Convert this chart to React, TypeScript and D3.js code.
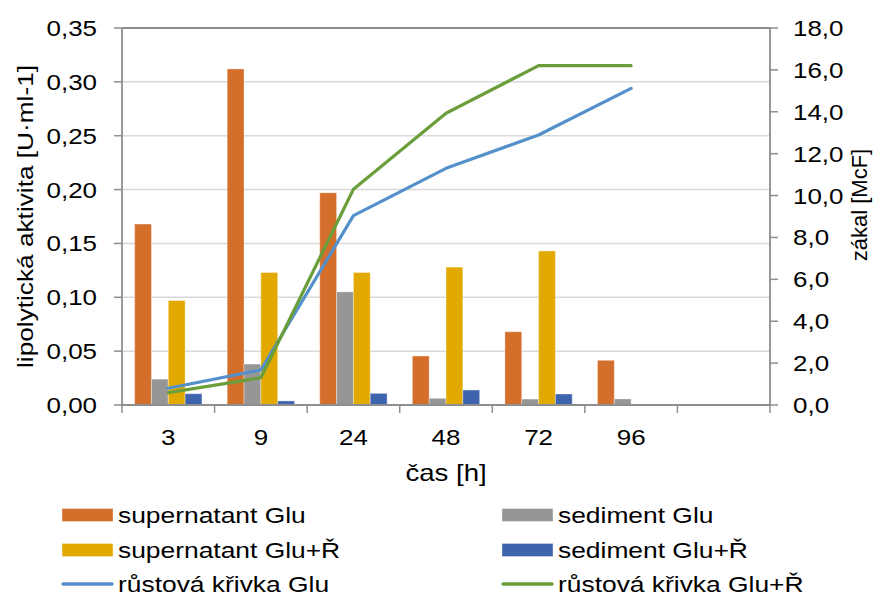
import React from "react";
import * as d3 from "d3";

const categories = ["3", "9", "24", "48", "72", "96", ""];
const supernatantGlu = [0.168, 0.312, 0.197, 0.0455, 0.068, 0.0415, null];
const sedimentGlu = [0.024, 0.038, 0.105, 0.0062, 0.0055, 0.0056, null];
const supernatantGluR = [0.097, 0.123, 0.123, 0.128, 0.143, null, null];
const sedimentGluR = [0.0105, 0.0038, 0.0108, 0.0139, 0.0102, null, null];
const growthGlu = [0.8, 1.67, 9.04, 11.3, 12.89, 15.12];
const growthGluR = [0.59, 1.3, 10.3, 13.93, 16.2, 16.2];
const leftTicks = [0, 0.05, 0.1, 0.15, 0.2, 0.25, 0.3, 0.35];
const rightTicks = [0, 2, 4, 6, 8, 10, 12, 14, 16, 18];

const barSeries = [
  { name: "supernatant Glu", values: supernatantGlu, color: "#D46E2B" },
  { name: "sediment Glu", values: sedimentGlu, color: "#969696" },
  { name: "supernatant Glu+Ř", values: supernatantGluR, color: "#E2AA00" },
  { name: "sediment Glu+Ř", values: sedimentGluR, color: "#3E64AE" },
];
const lineSeries = [
  { name: "růstová křivka Glu", values: growthGlu, color: "#5490CA" },
  { name: "růstová křivka Glu+Ř", values: growthGluR, color: "#6A9E3B" },
];

const FONT = "'Liberation Sans', Arial, Helvetica, sans-serif";
const SX = 1.18;

function HText({ x, y, anchor = "middle", size = 22, sx = SX, children }: any) {
  return (
    <text
      transform={`translate(${x},${y}) scale(${sx},1)`}
      textAnchor={anchor}
      fontSize={size}
      fontFamily={FONT}
      fill="#000"
    >
      {children}
    </text>
  );
}

export default function App() {
  const left = 122;
  const right = 770;
  const top = 28;
  const bottom = 405;

  const x = d3.scaleBand<string>().domain(categories.map((c, i) => String(i))).range([left, right]).padding(0);
  const inner = d3
    .scaleBand<string>()
    .domain(barSeries.map((s) => s.name))
    .range([0, x.bandwidth()])
    .paddingInner(0)
    .paddingOuter(0.75);
  const yL = d3.scaleLinear().domain([0, 0.35]).range([bottom, top]);
  const yR = d3.scaleLinear().domain([0, 18]).range([bottom, top]);
  const fmtL = (v: number) => d3.format(".2f")(v).replace(".", ",");
  const fmtR = (v: number) => d3.format(".1f")(v).replace(".", ",");

  const line = d3
    .line<number>()
    .x((_, i) => (x(String(i)) as number) + x.bandwidth() / 2)
    .y((v) => yR(v));

  const axisColor = "#8e8e8e";
  const legendRows = [515, 550, 584];
  const legendItems = [
    { col: 0, row: 0, s: barSeries[0], type: "bar" },
    { col: 1, row: 0, s: barSeries[1], type: "bar" },
    { col: 0, row: 1, s: barSeries[2], type: "bar" },
    { col: 1, row: 1, s: barSeries[3], type: "bar" },
    { col: 0, row: 2, s: lineSeries[0], type: "line" },
    { col: 1, row: 2, s: lineSeries[1], type: "line" },
  ];
  const colX = [62, 502];

  return (
    <svg width={880} height={597} style={{ position: "absolute", left: 0, top: 0, background: "#fff" }}>
      <rect x={0} y={0} width={880} height={597} fill="#fff" />
      {/* gridlines */}
      {leftTicks.slice(1, -1).map((t) => (
        <line key={t} x1={left} x2={right} y1={yL(t)} y2={yL(t)} stroke="#d9d9d9" strokeWidth={1.5} />
      ))}
      {/* bars */}
      {barSeries.map((s) =>
        s.values.map((v, i) =>
          v == null ? null : (
            <rect
              key={s.name + i}
              x={(x(String(i)) as number) + (inner(s.name) as number)}
              y={yL(v)}
              width={inner.bandwidth()}
              height={yL(0) - yL(v)}
              fill={s.color}
              stroke="#ffffff"
              strokeOpacity={0.35}
              strokeWidth={1}
            />
          )
        )
      )}
      {/* lines */}
      {lineSeries.map((s) => (
        <path
          key={s.name}
          d={line(s.values) as string}
          fill="none"
          stroke={s.color}
          strokeWidth={3.2}
          strokeLinejoin="round"
          strokeLinecap="round"
        />
      ))}
      {/* frame / axes */}
      <line x1={left} x2={right} y1={top} y2={top} stroke={axisColor} strokeWidth={1.8} />
      <line x1={left} x2={left} y1={top} y2={bottom} stroke={axisColor} strokeWidth={1.8} />
      <line x1={right} x2={right} y1={top} y2={bottom} stroke={axisColor} strokeWidth={1.8} />
      <line x1={left} x2={right} y1={bottom} y2={bottom} stroke={axisColor} strokeWidth={1.8} />
      {leftTicks.map((t) => (
        <g key={"l" + t}>
          <line x1={left - 8} x2={left} y1={yL(t)} y2={yL(t)} stroke={axisColor} strokeWidth={1.5} />
          <HText x={97} y={yL(t) + 8} anchor="end">
            {fmtL(t)}
          </HText>
        </g>
      ))}
      {rightTicks.map((t) => (
        <g key={"r" + t}>
          <line x1={right} x2={right + 8} y1={yR(t)} y2={yR(t)} stroke={axisColor} strokeWidth={1.5} />
          <HText x={793} y={yR(t) + 8} anchor="start">
            {fmtR(t)}
          </HText>
        </g>
      ))}
      {categories.map((c, i) => (
        <g key={"x" + i}>
          <line
            x1={x(String(i)) as number}
            x2={x(String(i)) as number}
            y1={bottom}
            y2={bottom + 8}
            stroke={axisColor}
            strokeWidth={1.5}
          />
          <HText x={(x(String(i)) as number) + x.bandwidth() / 2} y={445}>
            {c}
          </HText>
        </g>
      ))}
      <line x1={right} x2={right} y1={bottom} y2={bottom + 8} stroke={axisColor} strokeWidth={1.5} />
      {/* axis titles */}
      <HText x={446} y={481} size={23} sx={1.2}>
        čas [h]
      </HText>
      <text
        transform={`translate(33,216.5) rotate(-90)`}
        textAnchor="middle"
        fontSize={22}
        fontFamily={FONT}
        textLength={303}
        lengthAdjust="spacingAndGlyphs"
      >
        lipolytická aktivita [U·ml-1]
      </text>
      <text
        transform={`translate(867,205) rotate(-90)`}
        textAnchor="middle"
        fontSize={22}
        fontFamily={FONT}
      >
        zákal [McF]
      </text>
      {/* legend */}
      {legendItems.map((it) => {
        const cy = legendRows[it.row];
        const sx0 = colX[it.col];
        return (
          <g key={it.s.name}>
            {it.type === "bar" ? (
              <rect x={sx0} y={cy - 6.5} width={51} height={13} fill={it.s.color} stroke="#fff" strokeOpacity={0.35} />
            ) : (
              <line x1={sx0 + 1} x2={sx0 + 50} y1={cy} y2={cy} stroke={it.s.color} strokeWidth={3.5} strokeLinecap="round" />
            )}
            <HText x={sx0 + 56} y={cy + 7.8} anchor="start" sx={1.2}>
              {it.s.name}
            </HText>
          </g>
        );
      })}
    </svg>
  );
}
